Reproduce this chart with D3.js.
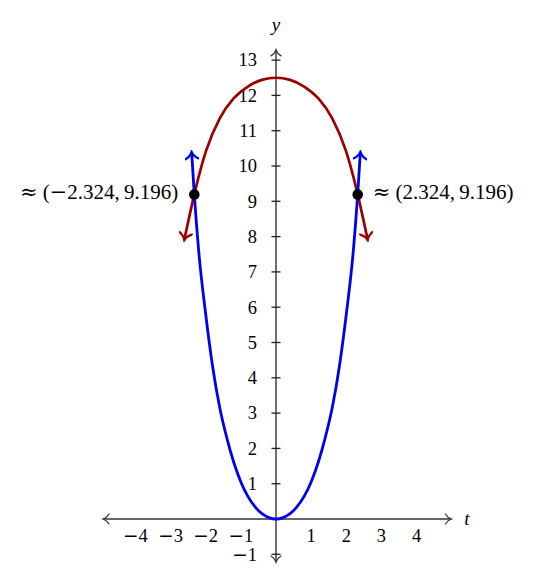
<!DOCTYPE html>
<html>
<head>
<meta charset="utf-8">
<script src="https://cdnjs.cloudflare.com/ajax/libs/d3/7.8.5/d3.min.js"></script>
<title>Intersections</title>
<style>
  body{ margin: 0; background-color: #fff; }
  text{ font-family: "Liberation Serif", "DejaVu Serif", serif; fill: #000; }
  .sym{ font-family: "DejaVu Serif", serif; }
</style>
</head>
<body>
<script>
// values
var blueT = [-2.4, -2.324, -2.2, -2.0, -1.8, -1.6, -1.4, -1.2, -1.0, -0.8, -0.6, -0.4, -0.2, 0,
             0.2, 0.4, 0.6, 0.8, 1.0, 1.2, 1.4, 1.6, 1.8, 2.0, 2.2, 2.324, 2.4],
    blueY = [10.4, 9.196, 7.6, 5.8, 4.3, 3.15, 2.3, 1.6, 1.05, 0.64, 0.35, 0.15, 0.04, 0,
             0.04, 0.15, 0.35, 0.64, 1.05, 1.6, 2.3, 3.15, 4.3, 5.8, 7.6, 9.196, 10.4];

var redT = [-2.61, -2.324, -2.2, -2.0, -1.6, -1.2, -0.8, -0.4, 0,
            0.4, 0.8, 1.2, 1.6, 2.0, 2.2, 2.324, 2.61],
    redY = [7.9, 9.196, 9.7, 10.4, 11.35, 11.92, 12.25, 12.44, 12.5,
            12.44, 12.25, 11.92, 11.35, 10.4, 9.7, 9.196, 7.9];

var crossT = [-2.324, 2.324],
    crossY = [9.196, 9.196],
    crossLabels = ["\u2248 (\u22122.324,\u20099.196)", "\u2248 (2.324,\u20099.196)"];

var xTicks = [-4, -3, -2, -1, 1, 2, 3, 4],
    yTicks = [-1, 1, 2, 3, 4, 5, 6, 7, 8, 9, 10, 11, 12, 13];

var xExtent = [-4.92, 4.99],
    yExtent = [-1.22, 13.29];

var w = 541, h = 585;

var x = d3.scaleLinear().domain([0, 1]).range([276, 311.15]),
    y = d3.scaleLinear().domain([0, 1]).range([519, 483.7]);

var svg = d3.select("body").append("svg")
    .attr("width", w)
    .attr("height", h);

// open arrow heads, one per colour
var defs = svg.append("defs");
[["ax", "#333"], ["blue", "#0000f0"], ["red", "#990000"]].forEach(function(m){
  defs.append("marker")
      .attr("id", "arr-" + m[0])
      .attr("viewBox", "-9 -7 11 14")
      .attr("markerUnits", "userSpaceOnUse")
      .attr("markerWidth", 11)
      .attr("markerHeight", 14)
      .attr("refX", 0)
      .attr("refY", 0)
      .attr("orient", "auto-start-reverse")
    .append("path")
      .attr("d", m[0] == "ax" ? "M-6,-5 C-4.5,-2.5 -2,-0.6 0,0 C-2,0.6 -4.5,2.5 -6,5"
                              : "M-7,-6.5 C-5,-3 -2.5,-0.8 0,0 C-2.5,0.8 -5,3 -7,6.5")
      .attr("fill", "none")
      .attr("stroke", m[1])
      .attr("stroke-width", m[0] == "ax" ? 1.3 : 2.2)
      .attr("stroke-linecap", "round");
});

// math-ish text: minus and approx taken from a font with wider symbols
function mathText(sel, s){
  sel.selectAll("tspan").remove();
  s.split(/([\u2212\u2248])/).forEach(function(part){
    if (!part) return;
    sel.append("tspan")
        .attr("class", /[\u2212\u2248]/.test(part) ? "sym" : null)
        .text(part);
  });
}

var fmt = function(d){ return d < 0 ? "\u2212" + Math.abs(d) : "" + d; };

// axes
var axes = svg.append("g");
axes.append("line")
    .attr("x1", x(xExtent[0])).attr("x2", x(xExtent[1]))
    .attr("y1", y(0)).attr("y2", y(0))
    .attr("stroke", "#333").attr("stroke-width", 1.4)
    .attr("marker-start", "url(#arr-ax)")
    .attr("marker-end", "url(#arr-ax)");
axes.append("line")
    .attr("x1", x(0)).attr("x2", x(0))
    .attr("y1", y(yExtent[0])).attr("y2", y(yExtent[1]))
    .attr("stroke", "#333").attr("stroke-width", 1.4)
    .attr("marker-start", "url(#arr-ax)")
    .attr("marker-end", "url(#arr-ax)");

axes.selectAll(".ytick")
  .data(yTicks)
  .enter().append("line")
    .attr("class", "ytick")
    .attr("x1", x(0) - 4.5).attr("x2", x(0) + 4.5)
    .attr("y1", function(d){ return y(d); })
    .attr("y2", function(d){ return y(d); })
    .attr("stroke", "#222").attr("stroke-width", 1.3);

axes.selectAll(".xlab")
  .data(xTicks)
  .enter().append("text")
    .attr("class", "xlab")
    .attr("x", function(d){ return x(d); })
    .attr("y", 542)
    .attr("text-anchor", "middle")
    .attr("font-size", 18.5)
    .each(function(d){ mathText(d3.select(this), fmt(d)); });

axes.selectAll(".ylab")
  .data(yTicks)
  .enter().append("text")
    .attr("class", "ylab")
    .attr("x", x(0) - 19)
    .attr("y", function(d){ return y(d) + 6.3; })
    .attr("text-anchor", "end")
    .attr("font-size", 18.5)
    .each(function(d){ mathText(d3.select(this), fmt(d)); });

axes.append("text")
    .attr("x", 467).attr("y", 525)
    .attr("text-anchor", "middle")
    .attr("font-size", 19)
    .attr("font-style", "italic")
    .text("t");
axes.append("text")
    .attr("x", x(0)).attr("y", 31)
    .attr("text-anchor", "middle")
    .attr("font-size", 19)
    .attr("font-style", "italic")
    .text("y");

// curves
var line = d3.line()
    .x(function(d){ return x(d[0]); })
    .y(function(d){ return y(d[1]); })
    .curve(d3.curveMonotoneX);

svg.append("path")
    .datum(d3.zip(redT, redY))
    .attr("d", line)
    .attr("fill", "none")
    .attr("stroke", "#990000")
    .attr("stroke-width", 2.7)
    .attr("marker-start", "url(#arr-red)")
    .attr("marker-end", "url(#arr-red)");

svg.append("path")
    .datum(d3.zip(blueT, blueY))
    .attr("d", line)
    .attr("fill", "none")
    .attr("stroke", "#0000f0")
    .attr("stroke-width", 2.8)
    .attr("marker-start", "url(#arr-blue)")
    .attr("marker-end", "url(#arr-blue)");

// intersection points and their labels
var pts = d3.zip(crossT, crossY, crossLabels);

svg.selectAll(".pt")
  .data(pts)
  .enter().append("circle")
    .attr("class", "pt")
    .attr("cx", function(d){ return x(d[0]); })
    .attr("cy", function(d){ return y(d[1]); })
    .attr("r", 5.3)
    .attr("fill", "#000");

svg.selectAll(".plab")
  .data(pts)
  .enter().append("text")
    .attr("class", "plab")
    .attr("x", function(d){ return x(d[0]) + (d[0] < 0 ? -16 : 15); })
    .attr("y", function(d){ return y(d[1]) + 5; })
    .attr("text-anchor", function(d){ return d[0] < 0 ? "end" : "start"; })
    .attr("font-size", 21)
    .each(function(d){ mathText(d3.select(this), d[2]); });
</script>
</body>
</html>
